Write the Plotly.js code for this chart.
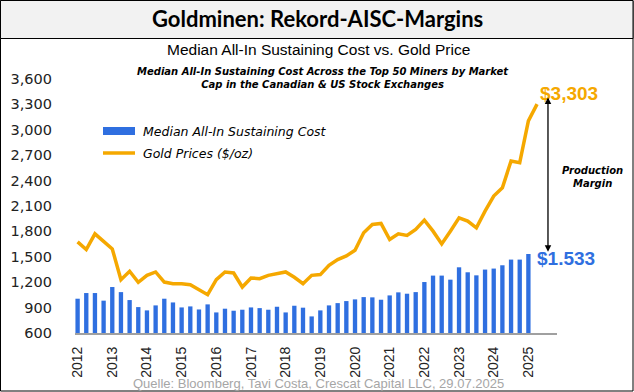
<!DOCTYPE html>
<html><head><meta charset="utf-8">
<script src="https://cdn.plot.ly/plotly-3.0.1.min.js"></script>
<style>html,body{margin:0;padding:0;background:#fff;}#chart{width:634px;height:392px;}</style>
</head><body><div id="chart"></div>
<script>
// Quarterly data, 2012 Q1 onward
const aiscCost = [1005,1072,1072,982,1143,1083,989,906,867,926,1005,
  961,902,914,878,938,843,887,863,875,902,894,
  875,910,843,922,899,796,867,926,953,977,997,
  1024,1021,993,1044,1080,1064,1083,1202,1278,1278,1230,
  1376,1317,1281,1349,1361,1400,1467,1467,1533];
const goldPrice = [1676,1586,1771,1676,1593,1230,1329,1198,1281,1321,1202,
  1183,1183,1171,1112,1053,1230,1321,1309,1143,1250,1242,
  1281,1305,1321,1258,1183,1281,1290,1400,1467,1510,1578,
  1783,1882,1894,1704,1771,1752,1823,1933,1803,1652,1803,
  1960,1921,1842,2040,2218,2316,2632,2612,3106,3303];
const yearLabels = ['2012','2013','2014','2015','2016','2017','2018','2019','2020','2021','2022','2023','2024','2025'];
const yTicks = [600,900,1200,1500,1800,2100,2400,2700,3000,3300,3600];
const seriesNames = ['Median All-In Sustaining Cost','Gold Prices ($/oz)'];

const xBar = aiscCost.map((_, i) => i);
const xGold = goldPrice.map((_, i) => i);
const yearTickVals = yearLabels.map((_, i) => i * 4);

const BLUE = '#2f6fe0', GOLD = '#f5a800';
// pixel helpers for decoration placement (plot area l=75..557, t=79..333)
const L = 75, R = 557, T = 79, B = 333;
const px = x => (x - L) / (R - L);
const py = y => (B - y) / (B - T);

const traces = [
  {type:'bar', x:xBar, y:aiscCost, name:seriesNames[0], marker:{color:BLUE}, width:0.5, showlegend:false, hoverinfo:'skip'},
  {type:'scatter', mode:'lines', x:xGold, y:goldPrice, name:seriesNames[1], line:{color:GOLD, width:3.5}, showlegend:false, hoverinfo:'skip'}
];

const lastGold = goldPrice[goldPrice.length-1];
const lastCost = aiscCost[aiscCost.length-1];
const fmtComma = v => v.toLocaleString('en-US');
const fmtDot = v => v.toLocaleString('de-DE');

function txt(x, y, text, font, xanchor) {
  return {xref:'paper', yref:'paper', x:px(x), y:py(y), text:text, showarrow:false,
    xanchor:xanchor || 'center', yanchor:'middle', font:font};
}

const layout = {
  width:634, height:392,
  margin:{l:L, r:634-R, t:T, b:392-B, pad:0},
  paper_bgcolor:'#ffffff', plot_bgcolor:'#ffffff',
  showlegend:false,
  xaxis:{range:[-0.3,55.3], tickvals:yearTickVals, ticktext:yearLabels, tickangle:-90,
    showgrid:false, zeroline:false, showline:true, linecolor:'#a0a0a0', linewidth:2,
    ticks:'', ticklabelstandoff:6, tickfont:{family:'Liberation Sans, Arial, sans-serif', size:14, color:'#222'}},
  yaxis:{range:[600,3600], tickvals:yTicks, ticktext:yTicks.map(fmtComma),
    showgrid:false, zeroline:false, showline:false, ticks:'', ticklabelstandoff:22,
    tickfont:{family:'DejaVu Sans, sans-serif', size:14.5, color:'#222'}},
  shapes:[
    {type:'rect', xref:'paper', yref:'paper', x0:px(0.5), x1:px(633), y0:py(0.5), y1:py(391), line:{color:'#000', width:1}, fillcolor:'rgba(0,0,0,0)', layer:'below'},
    {type:'rect', xref:'paper', yref:'paper', x0:px(0.5), x1:px(633), y0:py(0.5), y1:py(38.5), line:{color:'#000', width:1}, fillcolor:'#f2f2f2', layer:'below'},
    {type:'rect', xref:'paper', yref:'paper', x0:px(103), x1:px(135), y0:py(127), y1:py(135), line:{width:0}, fillcolor:BLUE},
    {type:'line', xref:'paper', yref:'paper', x0:px(103), x1:px(135), y0:py(153), y1:py(153), line:{color:GOLD, width:3.5}}
  ],
  annotations:[
    txt(317, 19, '<b>Goldminen: Rekord-AISC-Margins</b>', {family:'Lato, sans-serif', size:22, color:'#000'}),
    txt(318, 49, 'Median All-In Sustaining Cost vs. Gold Price', {family:'Liberation Sans Narrow, Arial Narrow, sans-serif', size:15.5, color:'#000'}),
    txt(323, 77.5, '<b><i>Median All-In Sustaining Cost Across the Top 50 Miners by Market<br>Cap in the Canadian &amp; US Stock Exchanges</i></b>', {family:'DejaVu Sans, sans-serif', size:10, color:'#000'}),
    txt(141, 131, '<i>'+seriesNames[0]+'</i>', {family:'DejaVu Sans, sans-serif', size:12.5, color:'#000'}, 'left'),
    txt(141, 153, '<i>'+seriesNames[1].replace('$','&#36;')+'</i>', {family:'DejaVu Sans, sans-serif', size:12.5, color:'#000'}, 'left'),
    txt(538, 93, '<b>&#36;'+fmtComma(lastGold)+'</b>', {family:'Liberation Sans, Arial, sans-serif', size:19, color:GOLD}, 'left'),
    txt(535, 258, '<b>&#36;'+fmtDot(lastCost)+'</b>', {family:'Liberation Sans, Arial, sans-serif', size:19, color:BLUE}, 'left'),
    txt(592, 176.5, '<b><i>Production<br>Margin</i></b>', {family:'DejaVu Sans, sans-serif', size:10, color:'#000'}),
    {xref:'x', yref:'y', axref:'x', ayref:'y', x:54.26, y:1560, ax:54.26, ay:3400, text:'', showarrow:true,
      arrowhead:2, startarrowhead:2, arrowside:'end+start', arrowsize:1, arrowwidth:1.3, arrowcolor:'#000'},
    txt(318, 383, 'Quelle: Bloomberg, Tavi Costa, Crescat Capital LLC, 29.07.2025', {family:'Liberation Sans Narrow, Arial Narrow, sans-serif', size:13, color:'#a6a6a6'})
  ]
};
Plotly.newPlot('chart', traces, layout, {displayModeBar:false, staticPlot:true});
</script></body></html>
